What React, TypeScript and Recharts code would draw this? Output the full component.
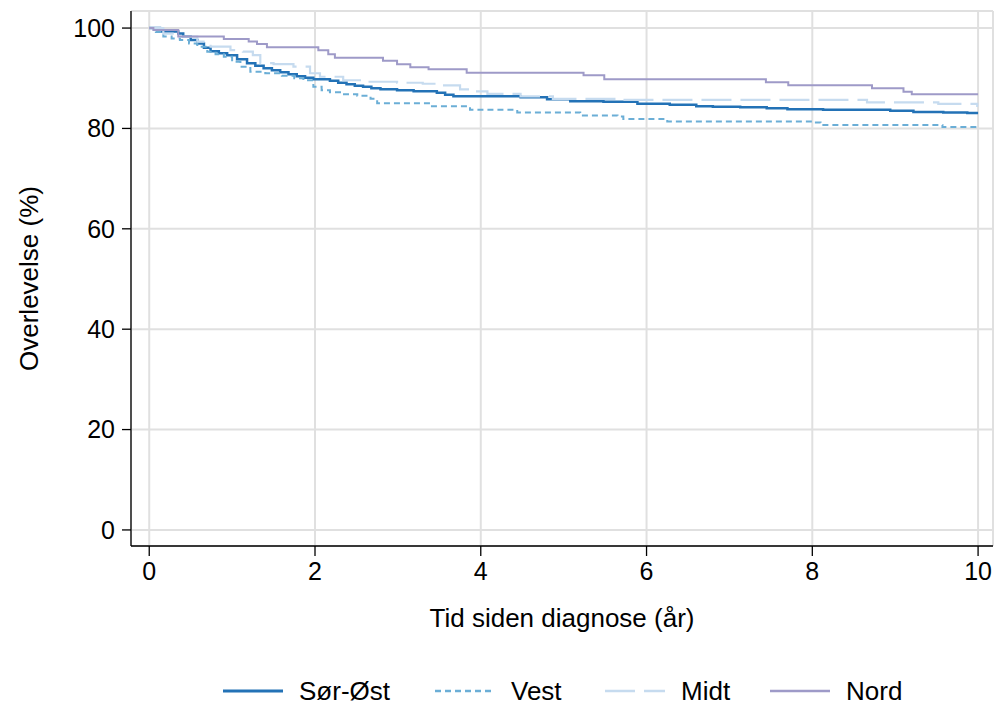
import * as React from 'react';
import { LineChart, Line, XAxis, YAxis, CartesianGrid, Legend, Label } from 'recharts';

// Kaplan-Meier survival by health region
const sorOstTime = [0, 0.13, 0.35, 0.41, 0.5, 0.58, 0.66, 0.74, 0.84, 0.94, 1.06, 1.18, 1.28, 1.38, 1.48, 1.58, 1.68, 1.78, 1.88, 1.98, 2.18, 2.28, 2.38, 2.48, 2.58, 2.68, 2.79, 2.99, 3.19, 3.47, 3.57, 3.67, 4.48, 4.8, 5.08, 5.48, 5.89, 6.28, 6.6, 6.8, 7.13, 7.45, 7.7, 8.13, 8.94, 9.22, 9.58, 9.87, 10];
const sorOstSurv = [100, 99.3, 98.9, 98.3, 97.6, 96.9, 96.1, 95.4, 95.0, 94.6, 93.8, 93.0, 92.5, 92.0, 91.6, 91.2, 90.8, 90.4, 90.1, 89.8, 89.5, 89.1, 88.8, 88.5, 88.3, 88.0, 87.8, 87.6, 87.4, 87.1, 86.7, 86.4, 86.2, 85.8, 85.4, 85.3, 84.9, 84.7, 84.4, 84.3, 84.2, 84.0, 83.8, 83.7, 83.5, 83.3, 83.2, 83.1, 83.1];

const vestTime = [0, 0.08, 0.17, 0.27, 0.37, 0.48, 0.58, 0.7, 0.8, 0.9, 1.0, 1.1, 1.22, 1.4, 1.6, 1.75, 1.86, 1.98, 2.08, 2.18, 2.35, 2.51, 2.67, 2.75, 3.39, 3.87, 4.44, 5.2, 5.65, 5.72, 6.25, 8.01, 8.1, 9.57, 10];
const vestSurv = [100, 99.2, 98.3, 97.9, 97.6, 96.9, 96.3, 95.3, 94.8, 94.3, 93.3, 92.3, 91.3, 91.0, 90.5, 90.0, 89.6, 88.3, 87.6, 87.2, 86.8, 86.5, 85.9, 85.0, 84.4, 83.7, 83.2, 82.6, 82.4, 81.9, 81.4, 81.2, 80.7, 80.3, 80.3];

const midtTime = [0, 0.17, 0.37, 0.58, 0.74, 0.98, 1.13, 1.25, 1.34, 1.5, 1.74, 1.94, 2.06, 2.34, 2.58, 2.99, 3.3, 3.51, 3.75, 3.91, 4.08, 4.48, 4.87, 5.68, 8.66, 9.52, 9.99, 10];
const midtSurv = [100, 98.9, 98.3, 97.3, 96.3, 95.6, 95.3, 94.6, 93.0, 92.8, 92.3, 91.0, 90.3, 89.6, 89.3, 89.1, 88.9, 88.6, 87.8, 87.4, 86.9, 86.4, 85.9, 85.7, 85.2, 84.9, 84.5, 84.5];

const nordTime = [0, 0.05, 0.35, 0.9, 1.2, 1.3, 1.42, 2.04, 2.16, 2.24, 2.82, 2.99, 3.15, 3.37, 3.83, 5.24, 5.49, 7.44, 7.71, 8.72, 9.1, 9.2, 10];
const nordSurv = [100, 99.6, 98.3, 97.8, 97.3, 96.8, 96.2, 95.6, 94.8, 94.1, 93.5, 92.8, 92.2, 91.8, 91.1, 90.6, 89.8, 89.2, 88.6, 88.0, 87.3, 86.8, 86.8];

const xTicks = [0, 2, 4, 6, 8, 10];
const yTicks = [0, 20, 40, 60, 80, 100];

const toRows = (t: number[], v: number[]) => t.map((x, i) => ({ t: x, v: v[i] }));

const series = [
  { name: 'Sør-Øst', rows: toRows(sorOstTime, sorOstSurv), color: '#2372b6', dash: undefined as string | undefined, width: 2.5 },
  { name: 'Vest', rows: toRows(vestTime, vestSurv), color: '#6baed6', dash: '6 4', width: 2 },
  { name: 'Midt', rows: toRows(midtTime, midtSurv), color: '#c6dbef', dash: '30 9', width: 2.2 },
  { name: 'Nord', rows: toRows(nordTime, nordSurv), color: '#9e9ac8', dash: undefined, width: 2 },
];

const FONT = '"Liberation Sans", Arial, sans-serif';

// legend item x positions (line start)
const legendX = [223, 435, 605, 770];

function LegendBox() {
  return (
    <svg width={994} height={40} style={{ display: 'block' }}>
      {series.map((s, i) => (
        <g key={s.name}>
          <line x1={legendX[i]} x2={legendX[i] + 60} y1={21} y2={21} stroke={s.color} strokeWidth={s.width + 0.3} strokeDasharray={s.dash} />
          <text x={legendX[i] + 76} y={21} dominantBaseline="central" fontSize={26} fontFamily={FONT} fill="#000">{s.name}</text>
        </g>
      ))}
    </svg>
  );
}

export default function App() {
  return (
    <div style={{ position: 'absolute', left: 0, top: 0, fontFamily: FONT, background: '#fff' }}>
      <LineChart width={994} height={707} margin={{ top: 11, right: 1, left: 0, bottom: 0 }}>
        <CartesianGrid stroke="#e0e0e0" strokeWidth={2} />
        <XAxis
          type="number"
          dataKey="t"
          domain={[-0.22, 10.18]}
          ticks={xTicks}
          allowDataOverflow
          height={161}
          tickSize={10}
          tickMargin={6}
          axisLine={{ stroke: '#000', strokeWidth: 1.3 }}
          tickLine={{ stroke: '#000', strokeWidth: 1.3 }}
          tick={{ fill: '#000', fontSize: 25, fontFamily: FONT }}
        >
          <Label
            content={(props: any) => {
              const vb = props.viewBox;
              return (
                <text x={vb.x + vb.width / 2} y={vb.y + 72} textAnchor="middle" dominantBaseline="central" fontSize={26} fontFamily={FONT} fill="#000">
                  Tid siden diagnose (år)
                </text>
              );
            }}
          />
        </XAxis>
        <YAxis
          type="number"
          domain={[-3.2, 103.4]}
          ticks={yTicks}
          allowDataOverflow
          width={131}
          tickSize={9}
          tickMargin={7}
          axisLine={{ stroke: '#000', strokeWidth: 1.3 }}
          tickLine={{ stroke: '#000', strokeWidth: 1.3 }}
          tick={{ fill: '#000', fontSize: 25, fontFamily: FONT }}
        >
          <Label
            content={(props: any) => {
              const vb = props.viewBox;
              const cy = vb.y + vb.height / 2;
              return (
                <text x={29} y={cy} textAnchor="middle" dominantBaseline="central" fontSize={26} fontFamily={FONT} fill="#000" transform={`rotate(-90, 29, ${cy})`}>
                  Overlevelse (%)
                </text>
              );
            }}
          />
        </YAxis>
        {series.map((s) => (
          <Line
            key={s.name}
            data={s.rows}
            dataKey="v"
            name={s.name}
            type="stepAfter"
            stroke={s.color}
            strokeWidth={s.width}
            strokeDasharray={s.dash}
            dot={false}
            activeDot={false}
            isAnimationActive={false}
          />
        ))}
        <Legend
          layout="horizontal"
          verticalAlign="middle"
          align="center"
          wrapperStyle={{ position: 'absolute', left: 0, top: 670, width: 994, height: 40 }}
          content={() => <LegendBox />}
        />
      </LineChart>
    </div>
  );
}
